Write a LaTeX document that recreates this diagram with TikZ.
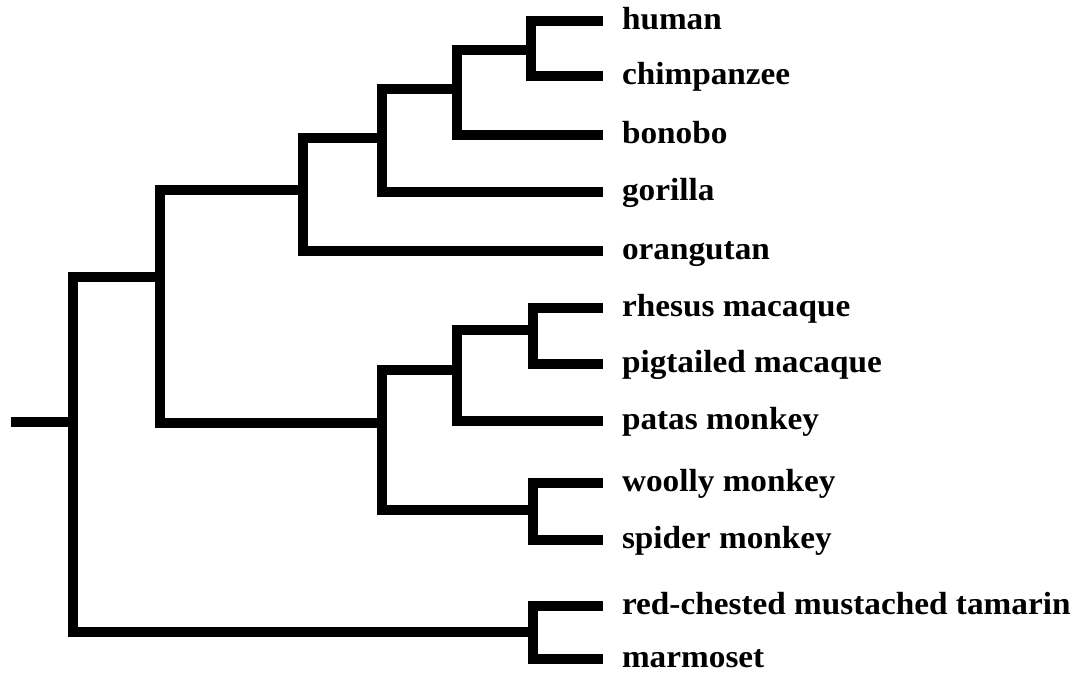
\documentclass[tikz,border=0pt]{standalone}
\usepackage{fontspec}
\setmainfont{Liberation Serif}
\begin{document}
\begin{tikzpicture}[x=0.75pt,y=-0.75pt,
  branch/.style={line width=8pt,line join=miter,line cap=butt,black},
  leaflabel/.style={anchor=base west,inner sep=0pt,outer sep=0pt,
    font=\fontsize{24}{27}\selectfont\bfseries}]
\useasboundingbox[fill=white] (0,0) rectangle (1086,682);
% leaf line ends
\coordinate (eHu) at (603,21);
\coordinate (eCh) at (603,76);
\coordinate (eBo) at (603,135);
\coordinate (eGo) at (603,192);
\coordinate (eOr) at (603,251);
\coordinate (eRh) at (603,308);
\coordinate (ePi) at (603,364);
\coordinate (ePa) at (603,421);
\coordinate (eWo) at (603,483);
\coordinate (eSp) at (603,540);
\coordinate (eTa) at (603,606);
\coordinate (eMa) at (603,659);
% labels
\newcommand{\lbl}[1]{\scalebox{1.04}[1]{#1}}
\node[leaflabel] (human) at (622,29) {\lbl{human}};
\node[leaflabel] (chimp) at (622,84) {\lbl{chimpanzee}};
\node[leaflabel] (bonobo) at (622,143) {\lbl{bonobo}};
\node[leaflabel] (gorilla) at (622,200) {\lbl{gorilla}};
\node[leaflabel] (orang) at (622,259) {\lbl{orangutan}};
\node[leaflabel] (rhesus) at (622,316) {\lbl{rhesus macaque}};
\node[leaflabel] (pig) at (622,372) {\lbl{pigtailed macaque}};
\node[leaflabel] (patas) at (622,429) {\lbl{patas monkey}};
\node[leaflabel] (woolly) at (622,491) {\lbl{woolly monkey}};
\node[leaflabel] (spider) at (622,548) {\lbl{spider monkey}};
\node[leaflabel] (tamarin) at (622,614) {\lbl{red-chested mustached tamarin}};
\node[leaflabel] (marmoset) at (622,667) {\lbl{marmoset}};
% internal nodes
\coordinate (nHC) at (531,50);
\coordinate (nHCB) at (457,89);
\coordinate (nHCBG) at (382,138);
\coordinate (nApes) at (303,190);
\coordinate (nRP) at (533,330);
\coordinate (nRPP) at (457,370);
\coordinate (nWS) at (533,510);
\coordinate (nMon) at (382,423);
\coordinate (nCat) at (160,277);
\coordinate (nTM) at (533,632);
\coordinate (nRoot) at (73,422);
\coordinate (stem) at (11,422);
% branches
\draw[branch] (eHu) -| (nHC) |- (eCh);
\draw[branch] (nHC) -| (nHCB) |- (eBo);
\draw[branch] (nHCB) -| (nHCBG) |- (eGo);
\draw[branch] (nHCBG) -| (nApes) |- (eOr);
\draw[branch] (eRh) -| (nRP) |- (ePi);
\draw[branch] (nRP) -| (nRPP) |- (ePa);
\draw[branch] (eWo) -| (nWS) |- (eSp);
\draw[branch] (nRPP) -| (nMon) |- (nWS);
\draw[branch] (nApes) -| (nCat) |- (nMon);
\draw[branch] (eTa) -| (nTM) |- (eMa);
\draw[branch] (nCat) -| (nRoot) |- (nTM);
\draw[branch] (stem) -- (nRoot);
\end{tikzpicture}
\end{document}
